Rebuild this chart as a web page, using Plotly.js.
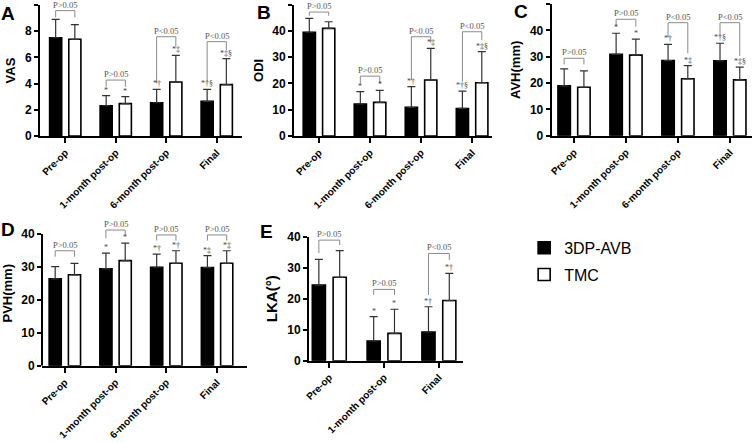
<!DOCTYPE html>
<html><head><meta charset="utf-8">
<script src="https://cdn.plot.ly/plotly-3.0.1.min.js"></script>
<style>html,body{margin:0;padding:0;background:#fff}#chart{width:752px;height:443px}</style>
</head><body><div id="chart"></div>
<script>
// ---------- data ----------
const categories = ['Pre-op', '1-month post-op', '6-month post-op', 'Final'];
const categoriesE = ['Pre-op', '1-month post-op', 'Final'];
const groupNames = ['3DP-AVB', 'TMC'];

// A: VAS
const vasAVB = [7.50, 2.31, 2.54, 2.65];
const vasAVBsd = [1.40, 0.77, 1.02, 0.91];
const vasTMC = [7.38, 2.47, 4.12, 3.92];
const vasTMCsd = [1.12, 0.53, 2.04, 1.98];
const vasMarkAVB = ['', '*', '*†', '*†§'];
const vasMarkTMC = ['', '*', '*‡', '*‡§'];
const vasBrTop = [9.57, 4.27, 7.58, 7.20];
const vasBrL = [9.06, 3.76, 4.02, 4.15];
const vasBrR = [9.06, 3.76, 6.82, 6.56];
const vasBrLab = ['P>0.05', 'P>0.05', 'P<0.05', 'P<0.05'];

// B: ODI
const odiAVB = [39.5, 12.2, 10.9, 10.5];
const odiAVBsd = [5.3, 4.7, 7.9, 6.6];
const odiTMC = [41.0, 12.8, 21.3, 20.3];
const odiTMCsd = [2.5, 4.6, 12.1, 11.8];
const odiMarkAVB = ['', '*', '*†', '*†§'];
const odiMarkTMC = ['', '*', '*‡', '*‡§'];
const odiBrTop = [47.2, 22.8, 37.8, 39.7];
const odiBrL = [45.8, 20.0, 21.3, 20.7];
const odiBrR = [45.8, 20.0, 35.5, 36.5];
const odiBrLab = ['P>0.05', 'P>0.05', 'P<0.05', 'P<0.05'];

// C: AVH(mm)
const avhAVB = [18.9, 30.9, 28.5, 28.4];
const avhAVBsd = [6.5, 8.0, 6.2, 6.7];
const avhTMC = [18.4, 30.6, 21.6, 21.2];
const avhTMCsd = [6.2, 6.1, 5.0, 4.8];
const avhMarkAVB = ['', '*', '*†', '*†§'];
const avhMarkTMC = ['', '*', '*‡', '*‡§'];
const avhBrTop = [29.4, 44.2, 42.9, 42.9];
const avhBrL = [27.1, 41.4, 37.4, 37.9];
const avhBrR = [27.1, 41.4, 31.3, 30.3];
const avhBrLab = ['P>0.05', 'P>0.05', 'P<0.05', 'P<0.05'];

// D: PVH(mm)
const pvhAVB = [26.35, 29.4, 29.9, 29.8];
const pvhAVBsd = [3.75, 4.8, 4.0, 3.6];
const pvhTMC = [27.6, 31.9, 31.1, 31.1];
const pvhTMCsd = [3.5, 5.3, 3.8, 3.8];
const pvhMarkAVB = ['', '*', '*†', '*‡'];
const pvhMarkTMC = ['', '*', '*†', '*‡'];
const pvhBrTop = [34.9, 41.2, 39.7, 39.7];
const pvhBrL = [33.1, 38.7, 38.0, 38.0];
const pvhBrR = [33.1, 39.7, 38.0, 38.0];
const pvhBrLab = ['P>0.05', 'P>0.05', 'P>0.05', 'P>0.05'];

// E: LKA(°)
const lkaAVB = [24.4, 6.35, 9.26];
const lkaAVBsd = [8.3, 7.85, 8.14];
const lkaTMC = [26.9, 8.8, 19.4];
const lkaTMCsd = [8.6, 7.8, 8.8];
const lkaMarkAVB = ['', '*', '*†'];
const lkaMarkTMC = ['', '*', '*†'];
const lkaBrTop = [38.9, 23.0, 34.6];
const lkaBrL = [34.7, 21.2, 21.2];
const lkaBrR = [37.3, 21.2, 32.5];
const lkaBrLab = ['P>0.05', 'P>0.05', 'P<0.05'];

// ---------- build ----------
const SANS = 'Arial, "Liberation Sans", sans-serif';
const SERIF = '"Liberation Serif", "Times New Roman", serif';
const BARGAP = 0.24;
const OFF = (1 - BARGAP) / 4;

const traces = [];
const annotations = [];
const shapes = [];

function panel(n, cats, avb, avbSd, tmc, tmcSd, mA, mT, bTop, bL, bR, bLab) {
  const xr = n === 1 ? 'x' : 'x' + n;
  const yr = n === 1 ? 'y' : 'y' + n;
  const mk = (name, y, sd, fill, show) => ({
    type: 'bar', name: name, x: cats, y: y, xaxis: xr, yaxis: yr,
    legendgroup: name, showlegend: show,
    marker: {color: fill, line: {color: '#000', width: 1.6}},
    error_y: {type: 'data', symmetric: false, array: sd, arrayminus: sd.map(() => 0),
              color: '#333', thickness: 1.2, width: 4},
    hoverinfo: 'skip'
  });
  traces.push(mk(groupNames[0], avb, avbSd, '#000', n === 1));
  traces.push(mk(groupNames[1], tmc, tmcSd, '#fff', n === 1));
  const markFont = {family: SERIF, size: 8, color: '#444'};
  cats.forEach((c, i) => {
    if (mA[i]) annotations.push({xref: xr, yref: yr, x: i - OFF, y: avb[i] + avbSd[i], text: mA[i],
      showarrow: false, yanchor: 'bottom', font: markFont, borderpad: 0});
    if (mT[i]) annotations.push({xref: xr, yref: yr, x: i + OFF, y: tmc[i] + tmcSd[i], text: mT[i],
      showarrow: false, yanchor: 'bottom', font: markFont, borderpad: 0});
    const ln = {color: '#8a8a8a', width: 1};
    shapes.push({type: 'line', xref: xr, yref: yr, x0: i - OFF, x1: i - OFF, y0: bL[i], y1: bTop[i], line: ln});
    shapes.push({type: 'line', xref: xr, yref: yr, x0: i - OFF, x1: i + OFF, y0: bTop[i], y1: bTop[i], line: ln});
    shapes.push({type: 'line', xref: xr, yref: yr, x0: i + OFF, x1: i + OFF, y0: bR[i], y1: bTop[i], line: ln});
    annotations.push({xref: xr, yref: yr, x: i, y: bTop[i], text: bLab[i], showarrow: false,
      yanchor: 'bottom', yshift: 0, borderpad: 0, font: {family: SERIF, size: 8.5, color: '#555'}});
  });
}

panel(1, categories, vasAVB, vasAVBsd, vasTMC, vasTMCsd, vasMarkAVB, vasMarkTMC, vasBrTop, vasBrL, vasBrR, vasBrLab);
panel(2, categories, odiAVB, odiAVBsd, odiTMC, odiTMCsd, odiMarkAVB, odiMarkTMC, odiBrTop, odiBrL, odiBrR, odiBrLab);
panel(3, categories, avhAVB, avhAVBsd, avhTMC, avhTMCsd, avhMarkAVB, avhMarkTMC, avhBrTop, avhBrL, avhBrR, avhBrLab);
panel(4, categories, pvhAVB, pvhAVBsd, pvhTMC, pvhTMCsd, pvhMarkAVB, pvhMarkTMC, pvhBrTop, pvhBrL, pvhBrR, pvhBrLab);
panel(5, categoriesE, lkaAVB, lkaAVBsd, lkaTMC, lkaTMCsd, lkaMarkAVB, lkaMarkTMC, lkaBrTop, lkaBrL, lkaBrR, lkaBrLab);

// D's y axis line drawn only up to the top tick (brackets rise above it)
shapes.push({type: 'line', xref: 'x4 domain', yref: 'y4', x0: 0, x1: 0, y0: 0, y1: 40,
  line: {color: '#000', width: 2}, layer: 'above'});

// panel letters
[['A', 0.011, 0.970], ['B', 0.351, 0.972], ['C', 0.693, 0.974], ['D', 0.011, 0.483], ['E', 0.355, 0.478]]
  .forEach(([t, x, y]) => annotations.push({xref: 'paper', yref: 'paper', x: x, y: y, text: t,
    showarrow: false, xanchor: 'center', yanchor: 'middle', font: {family: SANS, size: 19, weight: 'bold', color: '#000'}}));

const W = 752, H = 443;
const px = (a, b) => [a / W, b / W];
const py = (top, bottom) => [1 - bottom / H, 1 - top / H];

function xa(domain, range, n) {
  return {domain: domain, range: range, type: 'category', anchor: n === 1 ? 'y' : 'y' + n,
    showline: true, linewidth: 2, linecolor: '#000', ticks: 'outside', ticklen: 5, tickwidth: 2,
    tickcolor: '#000', showgrid: false, zeroline: false, tickangle: -45, fixedrange: true,
    tickfont: {family: SANS, size: 10, weight: 'bold', color: '#000'}};
}
function ya(domain, range, tv, title, n, line) {
  return {domain: domain, range: range, tickvals: tv, anchor: n === 1 ? 'x' : 'x' + n,
    showline: line !== false, linewidth: 2, linecolor: '#000', ticks: 'outside', ticklen: 4, tickwidth: 2,
    tickcolor: '#000', showgrid: false, zeroline: false, fixedrange: true,
    tickfont: {family: SANS, size: 12, weight: 'bold', color: '#000'},
    title: {text: title, standoff: 6, font: {family: SANS, size: 13, weight: 'bold', color: '#000'}}};
}

const layout = {
  width: W, height: H, margin: {l: 0, r: 0, t: 0, b: 0},
  paper_bgcolor: '#fff', plot_bgcolor: 'rgba(0,0,0,0)',
  barmode: 'group', bargap: BARGAP, bargroupgap: 0.37,
  showlegend: true,
  legend: {x: 0.697, y: 0.479, xanchor: 'left', yanchor: 'top', tracegroupgap: 3,
    font: {family: SANS, size: 16, color: '#000'}, bgcolor: 'rgba(0,0,0,0)'},
  xaxis: xa(px(40, 242), [-0.5, 3.5], 1),
  yaxis: ya(py(5, 136), [0, 10], [0, 2, 4, 6, 8, 10], 'VAS', 1),
  xaxis2: xa(px(294, 492), [-0.49, 3.39], 2),
  yaxis2: ya(py(4.7, 136), [0, 50], [0, 10, 20, 30, 40, 50], 'ODI', 2),
  xaxis3: xa(px(551.7, 751.7), [-0.43, 3.42], 3),
  yaxis3: ya(py(4, 135.7), [0, 50], [0, 10, 20, 30, 40, 50], 'AVH(mm)', 3),
  xaxis4: xa(px(42, 247), [-0.45, 3.59], 4),
  yaxis4: ya(py(220.8, 365.7), [0, 44], [0, 10, 20, 30, 40], 'PVH(mm)', 4, false),
  xaxis5: xa(px(309, 463), [-0.37, 2.44], 5),
  yaxis5: ya(py(236.7, 360.7), [0, 40], [0, 10, 20, 30, 40], 'LKA(°)', 5),
  annotations: annotations,
  shapes: shapes
};
layout.yaxis5.title.font.size = 15;

Plotly.newPlot('chart', traces, layout, {displayModeBar: false, staticPlot: true});
</script>
</body></html>
